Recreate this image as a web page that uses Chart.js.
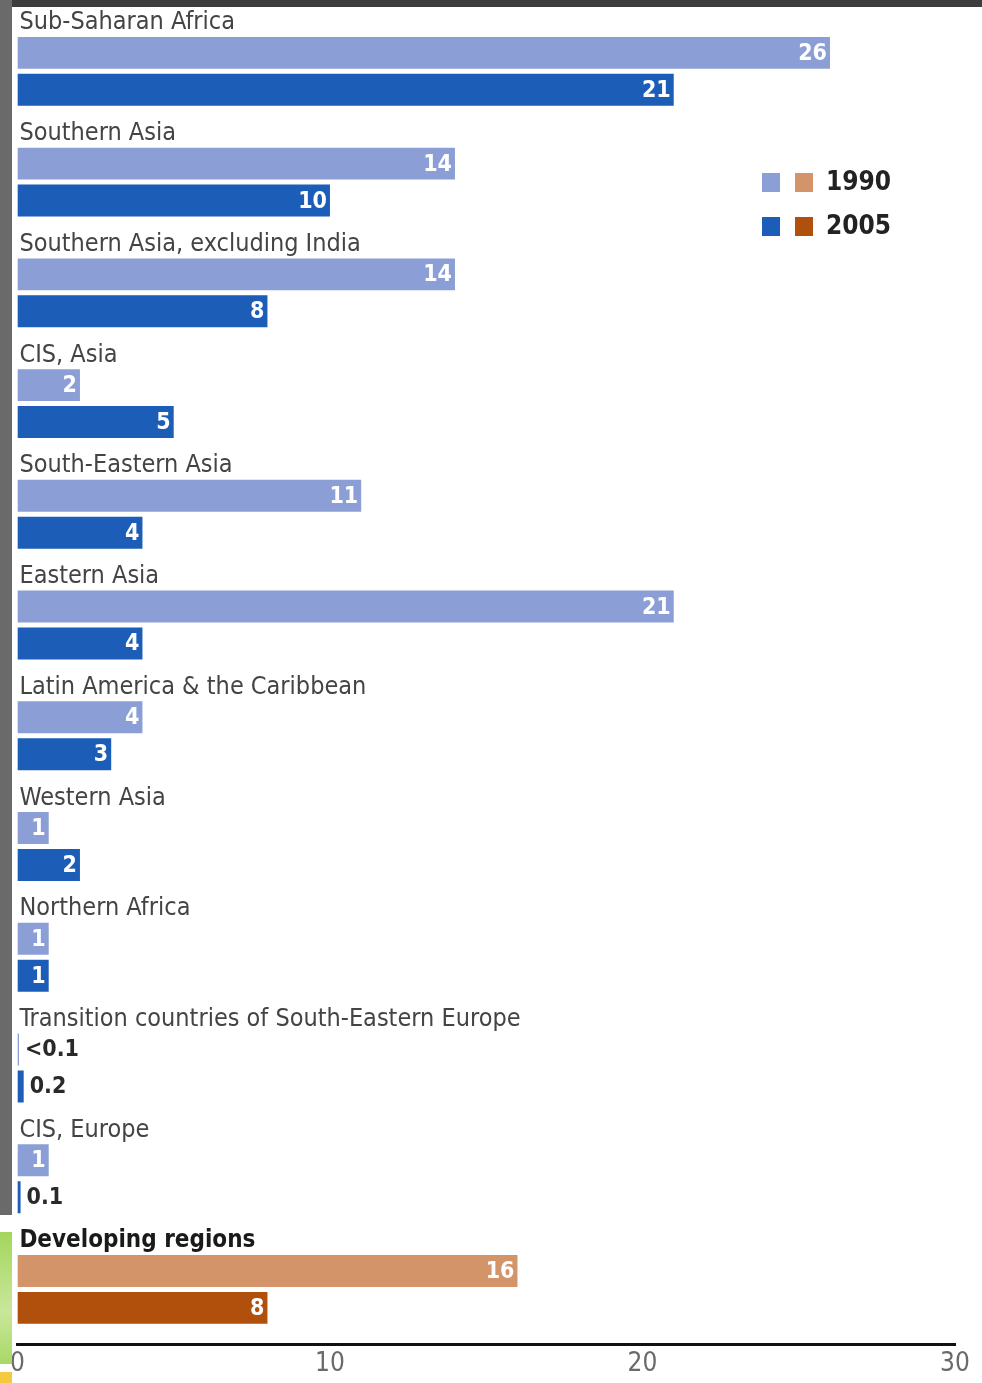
<!DOCTYPE html>
<html>
<head>
<meta charset="utf-8">
<script src="https://cdn.jsdelivr.net/npm/chart.js@4.4.1/dist/chart.umd.min.js"></script>
<style>
  html, body { margin: 0; padding: 0; background: #fff; }
  .wrap { position: relative; width: 982px; height: 1383px; overflow: hidden; }
  .top_bar { position: absolute; left: 0; top: 0; width: 982px; height: 7px; background: #3d3d3d; }
  .left_bar { position: absolute; left: 0; top: 0; width: 12px; height: 1215px; background: #6a6a6a; }
  .left_green { position: absolute; left: 0; top: 1232px; width: 12px; height: 132px;
    background: linear-gradient(#a3d65c, #c9e79a 60%, #a9d866); }
  .left_yellow { position: absolute; left: 0; top: 1372px; width: 12px; height: 11px; background: #f5c842; }
  canvas { position: absolute; left: 0; top: 0; }
</style>
</head>
<body>
<div class="wrap">
  <canvas id="myChart" width="982" height="1383"></canvas>
  <div class="top_bar"></div>
  <div class="left_bar"></div>
  <div class="left_green"></div>
  <div class="left_yellow"></div>
</div>
<script>
// categories, top to bottom
const regions = [
  'Sub-Saharan Africa',
  'Southern Asia',
  'Southern Asia, excluding India',
  'CIS, Asia',
  'South-Eastern Asia',
  'Eastern Asia',
  'Latin America & the Caribbean',
  'Western Asia',
  'Northern Africa',
  'Transition countries of South-Eastern Europe',
  'CIS, Europe',
  'Developing regions'
]
const years = ['1990', '2005']
const val_1990 = [26, 14, 14, 2, 11, 21, 4, 1, 1, 0.05, 1, 16]
const val_2005 = [21, 10, 8, 5, 4, 4, 3, 2, 1, 0.2, 0.1, 8]
const x_ticks = [0, 10, 20, 30]

const total_name = 'Developing regions'
const blue_light = '#8b9fd6'
const blue_dark = '#1b5db7'
const orange_light = '#d3946a'
const orange_dark = '#b0500c'

const font_narrow = '"Liberation Sans Narrow", "DejaVu Sans Condensed", "Liberation Sans", sans-serif'

function fmt(v) {
  if (v < 0.1) return '<0.1'
  return String(v)
}

// category labels above each pair, value labels at bar ends, legend top right
const labelsPlugin = {
  id: 'labelsPlugin',
  afterDatasetsDraw(chart) {
    const ctx = chart.ctx
    const area = chart.chartArea
    const meta0 = chart.getDatasetMeta(0)
    ctx.save()
    ctx.textBaseline = 'middle'

    // region names
    meta0.data.forEach((bar, i) => {
      const name = regions[i]
      const top = bar.y - bar.height / 2
      if (name === total_name) {
        ctx.font = 'bold 24px ' + font_narrow
        ctx.fillStyle = '#1a1a1a'
      } else {
        ctx.font = '25px ' + font_narrow
        ctx.fillStyle = '#444444'
      }
      ctx.textAlign = 'left'
      ctx.fillText(name, area.left + 2, top - 14)
    })

    // values
    chart.data.datasets.forEach((ds, d) => {
      const meta = chart.getDatasetMeta(d)
      meta.data.forEach((bar, i) => {
        const txt = fmt(ds.data[i])
        ctx.font = 'bold 23px ' + font_narrow
        const w = ctx.measureText(txt).width
        const len = bar.x - bar.base
        if (w + 6 < len) {
          ctx.fillStyle = '#ffffff'
          ctx.textAlign = 'right'
          ctx.fillText(txt, bar.x - 3, bar.y + 1)
        } else {
          ctx.fillStyle = '#2a2a2a'
          ctx.textAlign = 'left'
          ctx.fillText(txt, bar.x + 6, bar.y + 1)
        }
      })
    })

    // legend: two swatches per year (regions / developing regions)
    const lx = 762
    const rows = [[blue_light, orange_light], [blue_dark, orange_dark]]
    years.forEach((y, r) => {
      const cy = 182 + r * 44
      ctx.fillStyle = rows[r][0]
      ctx.fillRect(lx, cy - 9, 18, 19)
      ctx.fillStyle = rows[r][1]
      ctx.fillRect(lx + 33, cy - 9, 18, 19)
      ctx.fillStyle = '#222'
      ctx.font = 'bold 26px ' + font_narrow
      ctx.textAlign = 'left'
      ctx.fillText(y, lx + 64, cy + 1)
    })
    ctx.restore()
  }
}

const colors_1990 = regions.map(r => r === total_name ? orange_light : blue_light)
const colors_2005 = regions.map(r => r === total_name ? orange_dark : blue_dark)

const ctx = document.getElementById('myChart')

new Chart(ctx, {
  type: 'bar',
  data: {
    labels: regions,
    datasets: [{
      label: years[0],
      data: val_1990,
      backgroundColor: colors_1990,
      borderWidth: 0
    }, {
      label: years[1],
      data: val_2005,
      backgroundColor: colors_2005,
      borderWidth: 0
    }]
  },
  plugins: [labelsPlugin],
  options: {
    indexAxis: 'y',
    responsive: false,
    animation: false,
    categoryPercentage: 0.667,
    barPercentage: 0.865,
    layout: {
      padding: { left: 17, right: 27, top: 16, bottom: 0 }
    },
    plugins: {
      legend: { display: false },
      tooltip: { enabled: false }
    },
    scales: {
      x: {
        min: 0,
        max: 30,
        afterBuildTicks: axis => {
          axis.ticks = x_ticks.map(v => ({ value: v }))
        },
        grid: { display: false, drawTicks: false },
        border: { display: true, color: '#111', width: 3 },
        ticks: {
          color: '#6a6a6a',
          padding: 10,
          maxRotation: 0,
          font: { family: font_narrow, size: 26, lineHeight: 0.7 }
        }
      },
      y: {
        display: false
      }
    }
  }
})
</script>
</body>
</html>
